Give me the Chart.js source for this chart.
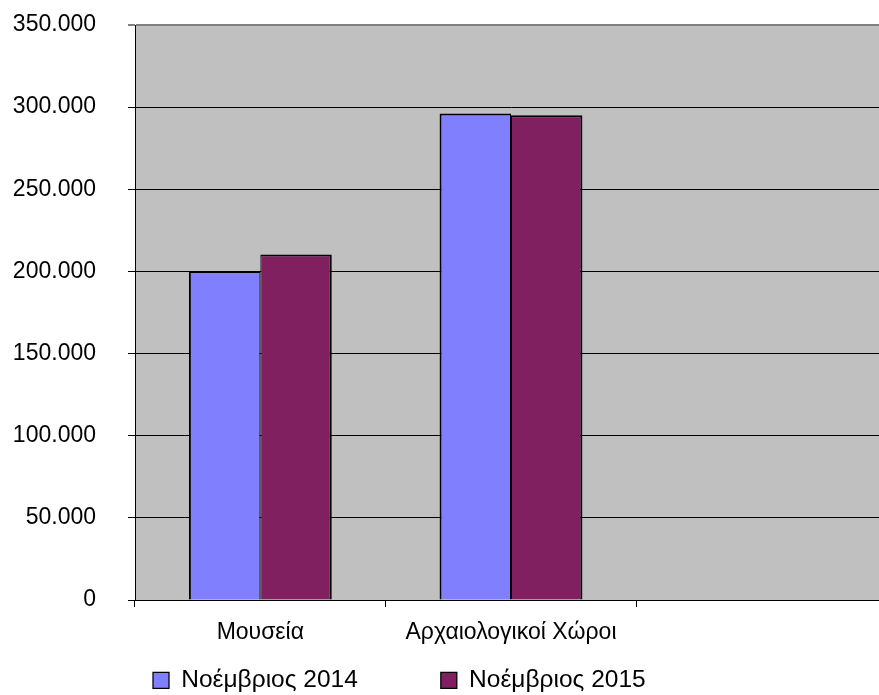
<!DOCTYPE html>
<html lang="el">
<head>
<meta charset="utf-8">
<title>Επισκέπτες Νοέμβριος 2014 - 2015</title>
<script src="https://cdn.jsdelivr.net/npm/chart.js@4.4.1/dist/chart.umd.min.js"></script>
<style>
  html, body { margin:0; padding:0; background:#fff; overflow:hidden; }
  /* the plot runs a little past the right edge of the window, as in the original */
  #wrap { width:887px; height:695px; }
</style>
</head>
<body>
<div id="wrap"><canvas id="chart"></canvas></div>
<script>
// Δεδομένα (τιμές εκτιμημένες από το γράφημα)
const categories = ['Μουσεία', 'Αρχαιολογικοί Χώροι', ''];
const seriesNames = ['Νοέμβριος 2014', 'Νοέμβριος 2015'];
const nov2014 = [200200, 296200, null];
const nov2015 = [210300, 295100, null];
const yTicks = [0, 50000, 100000, 150000, 200000, 250000, 300000, 350000];

const COLOR_2014 = '#8080ff';
const COLOR_2015 = '#802060';
const PLOT_BG = '#c0c0c0';

// 350000 -> "350.000"
function fmt(v){ return String(v).replace(/\B(?=(\d{3})+(?!\d))/g, '.'); }

/* ---------- plugins ---------- */
const plotBackground = {
  id: 'plotBackground',
  beforeDraw(chart){
    const {ctx, chartArea:a} = chart;
    ctx.save();
    ctx.fillStyle = PLOT_BG;
    ctx.fillRect(a.left, a.top, a.right - a.left, a.bottom - a.top);
    ctx.restore();
  }
};

// legend sits left of centre with a wide gap between the two entries
const legendPlacement = {
  id: 'legendPlacement',
  afterLayout(chart){
    const l = chart.legend;
    const pad = l.options.labels.padding;
    l.left = 153 - pad;
    l.top = 668 - pad;
  }
};

Chart.defaults.font.family = "'Liberation Sans', Arial, sans-serif";
Chart.defaults.font.size = 23;
Chart.defaults.color = '#000';

new Chart(document.getElementById('chart'), {
  type: 'bar',
  data: {
    labels: categories,
    datasets: [
      { label: seriesNames[0], data: nov2014, backgroundColor: COLOR_2014, borderColor: '#000',
        borderWidth: { top:2, left:2, right:1, bottom:0 } },
      { label: seriesNames[1], data: nov2015, backgroundColor: COLOR_2015, borderColor: '#000',
        borderWidth: { top:2, left:1, right:2, bottom:0 } }
    ]
  },
  options: {
    responsive: true,
    maintainAspectRatio: false,
    animation: false,
    categoryPercentage: 0.57,
    barPercentage: 1,
    layout: { padding: { top: 25, left: 0, right: 0, bottom: 0 } },
    plugins: {
      tooltip: { enabled: false },
      legend: {
        position: 'bottom',
        align: 'start',
        maxHeight: 40,
        labels: { font: { size: 24.5 }, boxWidth: 16, boxHeight: 16, padding: 83 }
      }
    },
    scales: {
      x: {
        offset: true,
        grid: { offset: true, drawOnChartArea: false, color: '#000', tickLength: 7 },
        border: { color: '#000', width: 1 },
        ticks: { padding: 12, autoSkip: false, maxRotation: 0 },
        afterFit(s){ s.height = 55; }
      },
      y: {
        min: 0, max: 350000,
        afterBuildTicks(s){ s.ticks = yTicks.map(v => ({ value: v })); },
        grid: {
          color: c => c.tick && c.tick.value === 350000 ? '#808080' : '#000',
          lineWidth: c => c.tick && c.tick.value === 350000 ? 2 : 1,
          tickLength: 7
        },
        border: { color: '#000', width: 1 },
        ticks: { padding: 32, callback: v => fmt(v) },
        // the large label gap should not push the plot down
        afterFit(s){ s.width = 135; s.paddingTop = 14; s.paddingBottom = 14; }
      }
    }
  },
  plugins: [plotBackground, legendPlacement]
});
</script>
</body>
</html>
